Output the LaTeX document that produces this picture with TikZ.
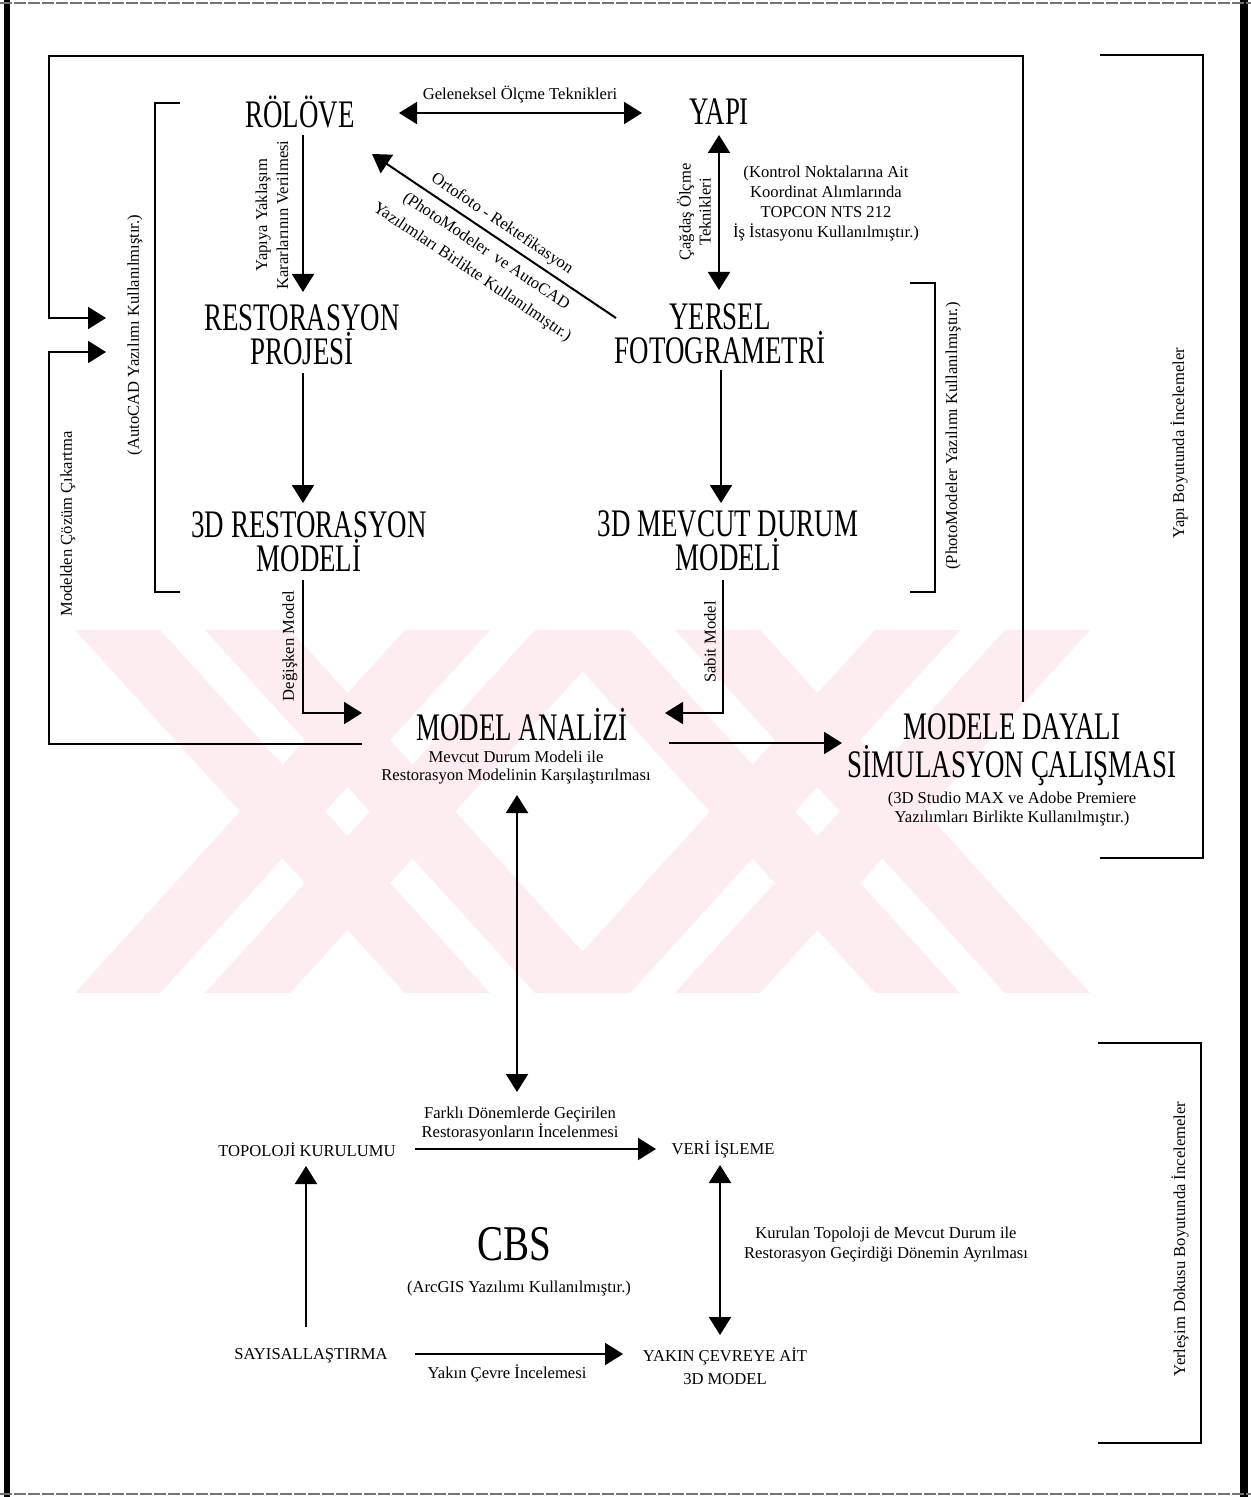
\documentclass[tikz,border=0pt]{standalone}
\usepackage{fontspec}
\setmainfont{Liberation Serif}
\newfontfamily\bigfont[FakeStretch=0.69]{Liberation Serif}
\newfontfamily\cbsfont[FakeStretch=0.78]{Liberation Serif}
\usetikzlibrary{arrows.meta,calc}
\definecolor{wmpink}{RGB}{253,236,240}
\begin{document}
\begin{tikzpicture}[x=0.5pt,y=-0.5pt,
  big/.style={font=\bigfont\fontsize{19.5}{17}\selectfont, align=center, inner sep=0pt},
  sm/.style={font=\fontsize{8.3}{10}\selectfont, align=center, inner sep=0pt},
  ln/.style={line width=1pt},
  arr/.style={line width=1pt, -{Triangle[length=9pt,width=11pt]}},
  dbl/.style={line width=1pt, {Triangle[length=9pt,width=11pt]}-{Triangle[length=9pt,width=11pt]}}]
\useasboundingbox (0,0) rectangle (1251,1497);
\fill[white] (0,0) rectangle (1251,1497);
% watermark
\foreach \L/\R in {75/620, 545/1090} {
  \fill[wmpink] (\L,630) -- (\L+85,630) -- (\R-130,993) -- (\R-215,993) -- cycle;
  \fill[wmpink] (\L+130,630) -- (\L+215,630) -- (\R,993) -- (\R-85,993) -- cycle;
  \fill[wmpink] (\R-215,630) -- (\R-130,630) -- (\L+85,993) -- (\L,993) -- cycle;
  \fill[wmpink] (\R-85,630) -- (\R,630) -- (\L+215,993) -- (\L+130,993) -- cycle;
}
% frame
\draw[line width=3pt] (7,0) -- (7,1497);
\draw[line width=4pt] (1244,0) -- (1244,1497);
\draw[line width=1pt, black!55, dash pattern=on 6pt off 1pt] (0,3) -- (1251,3);
\draw[line width=1pt, black!55, dash pattern=on 6pt off 1pt] (0,1494) -- (1251,1494);

% main nodes
\node[big, anchor=base] (rolove) at (300,128) {RÖLÖVE};
\node[big, anchor=base] (yapi) at (719,125) {YAPI};
\node[big] (rest) at (302,335) {RESTORASYON\\PROJESİ};
\node[big] (yersel) at (720,334) {YERSEL\\FOTOGRAMETRİ};
\node[big] (r3d) at (309,542) {3D RESTORASYON\\MODELİ};
\node[big] (m3d) at (728,541) {3D MEVCUT DURUM\\MODELİ};
\node[big, anchor=base] (analiz) at (522,740) {MODEL ANALİZİ};
\node[sm, font=\fontsize{8.3}{9}\selectfont] (analizsub) at (516,768) {Mevcut Durum Modeli ile\\Restorasyon Modelinin Karşılaştırılması};
\node[big, font=\bigfont\fontsize{19.5}{19}\selectfont] (modele) at (1012,750) {MODELE DAYALI\\SİMULASYON ÇALIŞMASI};
\node[sm, font=\fontsize{8.3}{9.5}\selectfont] (modelesub) at (1012,809) {(3D Studio MAX ve Adobe Premiere\\Yazılımları Birlikte Kullanılmıştır.)};

\node[sm] (topo) at (307,1150) {TOPOLOJİ KURULUMU};
\node[sm] (veri) at (723,1149) {VERİ İŞLEME};
\node[sm] (sayi) at (311,1356) {SAYISALLAŞTIRMA};
\node[sm, font=\fontsize{8.3}{11.5}\selectfont] (yakin) at (725,1366) {YAKIN ÇEVREYE AİT\\3D MODEL};
\node[font=\cbsfont\fontsize{25}{25}\selectfont, inner sep=0pt, anchor=base] (cbs) at (514,1260) {CBS};
\node[sm] (cbssub) at (519,1288) {(ArcGIS Yazılımı Kullanılmıştır.)};

% labels
\node[sm] (lgelen) at (520,95) {Geleneksel Ölçme Teknikleri};
\node[sm, rotate=90, font=\fontsize{8.3}{10.5}\selectfont] (lyapiya) at (272,215) {Yapıya Yaklaşım\\Kararlarının Verilmesi};
\node[sm, rotate=90] (lcagdas) at (694,212) {Çağdaş Ölçme\\Teknikleri};
\node[sm] (lkontrol) at (826,204) {(Kontrol Noktalarına Ait\\Koordinat Alımlarında\\TOPCON NTS 212\\İş İstasyonu Kullanılmıştır.)};
\node[sm, rotate=-33.9] (ldiag1) at (502,224) {Ortofoto - Rektefikasyon};
\node[sm, rotate=-33.9, font=\fontsize{8.3}{12.5}\selectfont] (ldiag2) at (479,262) {(PhotoModeler \ ve AutoCAD\\Yazılımları Birlikte Kullanılmıştır.)};
\node[sm, rotate=90] (lauto) at (135,335) {(AutoCAD Yazılımı Kullanılmıştır.)};
\node[sm, rotate=90] (lmodelden) at (68,524) {Modelden Çözüm Çıkartma};
\node[sm, rotate=90] (lphoto) at (953,436) {(PhotoModeler Yazılımı Kullanılmıştır.)};
\node[sm, rotate=90] (lyapi) at (1179,443) {Yapı Boyutunda İncelemeler};
\node[sm, rotate=90] (lyerlesim) at (1180,1239) {Yerleşim Dokusu Boyutunda İncelemeler};
\node[sm, rotate=90] (ldegisken) at (290,646) {Değişken Model};
\node[sm, rotate=90] (lsabit) at (710,642) {Sabit Model};
\node[sm, font=\fontsize{8.3}{9.5}\selectfont] (lfarkli) at (520,1124) {Farklı Dönemlerde Geçirilen\\Restorasyonların İncelenmesi};
\node[sm] (lkurulan) at (886,1245) {Kurulan Topoloji de Mevcut Durum ile\\Restorasyon Geçirdiği Dönemin Ayrılması};
\node[sm] (lyakin) at (507,1373) {Yakın Çevre İncelemesi};

% free-end coordinates
\coordinate (fbA) at (106,318);
\coordinate (fbB) at (106,352);
\coordinate (cbstop) at (517,1092);

% connectors
\draw[dbl] ($(rolove.base)+(99,-15)$) -- ($(yapi.base)+(-77,-12)$);
\draw[arr] ($(rolove.base)+(3,7)$) -- ($(rest)+(1,-43)$);
\draw[dbl] ($(yapi.base)+(0,10)$) -- ($(yersel)+(-1,-44)$);
\draw[arr] ($(yersel)+(-104,-16)$) -- ($(rolove.base)+(72,26)$);
\draw[arr] ($(rest)+(1,38)$) -- ($(r3d)+(-6,-39)$);
\draw[arr] ($(yersel)+(1,36)$) -- ($(m3d)+(-7,-38)$);
\draw[arr] ($(r3d)+(-6,38)$) |- ($(analiz.base)+(-160,-27)$);
\draw[arr] ($(m3d)+(-5,39)$) |- ($(analiz.base)+(143,-27)$);
\draw[arr] ($(analiz.base)+(147,3)$) -- ($(modele)+(-170,-7)$);
\draw[dbl] ($(analiz.base)+(-5,55)$) -- (cbstop);
\draw[arr] ($(topo)+(108,-1)$) -- ($(veri)+(-67,0)$);
\draw[arr] ($(sayi)+(-5,-29)$) -- ($(topo)+(-1,16)$);
\draw[dbl] ($(veri)+(-3,16)$) -- ($(yakin)+(-5,-31)$);
\draw[arr] ($(sayi)+(104,-2)$) -- ($(yakin)+(-102,-12)$);
% feedback loops
\draw[arr] ($(modele)+(11,-48)$) -- ++(0,-646) -- ++(-974,0) -- ++(0,262) -- (fbA);
\draw[arr] ($(analiz.base)+(-160,4)$) -- ++(-313,0) -- ++(0,-392) -- (fbB);

% brackets
\draw[ln] (180,103) -- (155,103) -- (155,592) -- (180,592);
\draw[ln] (910,283) -- (935,283) -- (935,592) -- (910,592);
\draw[ln] (1100,55) -- (1203,55) -- (1203,858) -- (1100,858);
\draw[ln] (1098,1043) -- (1201,1043) -- (1201,1443) -- (1098,1443);
\end{tikzpicture}
\end{document}
